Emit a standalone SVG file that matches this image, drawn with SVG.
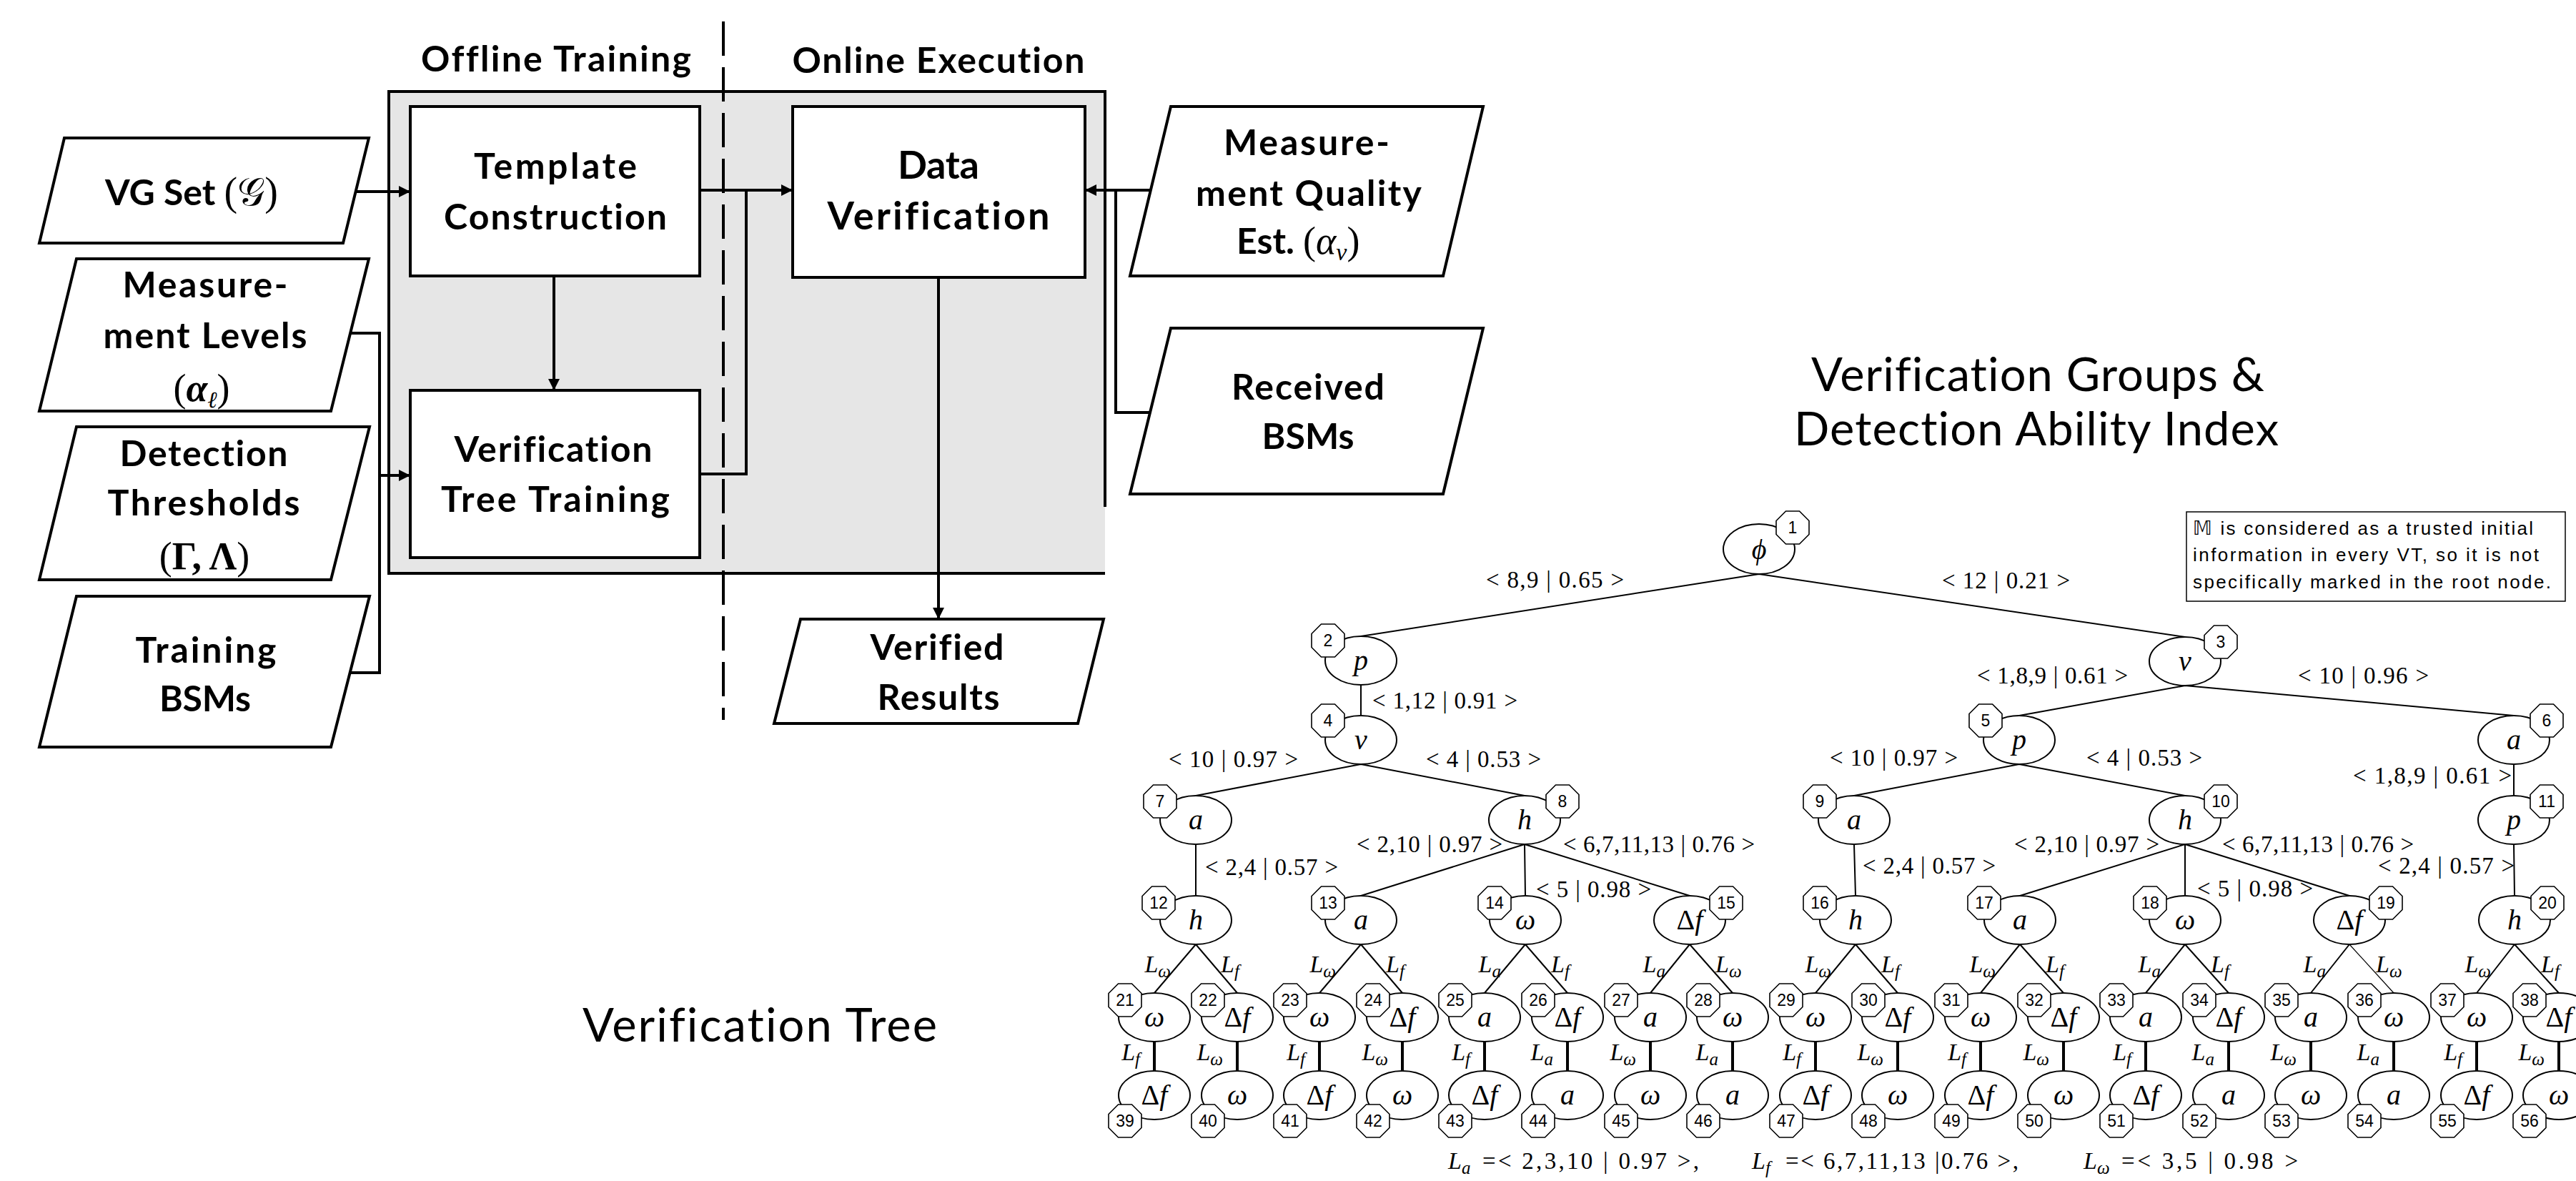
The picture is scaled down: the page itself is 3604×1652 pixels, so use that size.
<svg xmlns="http://www.w3.org/2000/svg" xmlns:xlink="http://www.w3.org/1999/xlink" width="3604" height="1652" viewBox="0 0 3604 1652">
<defs>
<style>
.fc{font-family:Lato,"Liberation Sans",sans-serif;font-weight:bold;font-size:50px;text-anchor:middle;fill:#000;font-variant-ligatures:none;font-feature-settings:"liga" 0,"dlig" 0,"clig" 0}
.fcl{font-family:Lato,"Liberation Sans",sans-serif;font-weight:bold;font-size:54px;text-anchor:middle;fill:#000;font-variant-ligatures:none;font-feature-settings:"liga" 0,"dlig" 0,"clig" 0}
.math{font-family:"Liberation Serif",serif}
.box{fill:#fff;stroke:#000;stroke-width:4}
.wire{fill:none;stroke:#000;stroke-width:4}
.title{font-family:Lato,"Liberation Sans",sans-serif;font-size:65px;text-anchor:middle;fill:#000;font-variant-ligatures:none;font-feature-settings:"liga" 0,"dlig" 0,"clig" 0}
.note{font-family:"Liberation Sans",sans-serif;font-size:26px;fill:#000}
.nd{fill:#fff;stroke:#000;stroke-width:2}
.oct{fill:#fff;stroke:#000;stroke-width:1.6}
.num{font-family:"Liberation Sans",sans-serif;font-size:23px;text-anchor:middle;fill:#000}
.sym{font-family:"Liberation Serif",serif;font-style:italic;font-size:40px;text-anchor:middle;fill:#000}
.lab{font-family:"Liberation Serif",serif;font-size:33px;fill:#000}
.L{font-family:"Liberation Serif",serif;font-style:italic;font-size:34px;fill:#000}
.s{font-size:25px}
.e1{fill:none;stroke:#000;stroke-width:2}
.e2{fill:none;stroke:#000;stroke-width:4}
</style>
<marker id="ah" viewBox="0 0 10 10" refX="10" refY="5" markerWidth="4" markerHeight="4" orient="auto">
<path d="M0,0 L10,5 L0,10 z" fill="#000"/>
</marker>
<polygon id="oct" points="23,9.5 9.5,23 -9.5,23 -23,9.5 -23,-9.5 -9.5,-23 9.5,-23 23,-9.5"/>
</defs>
<rect width="3604" height="1652" fill="#fff"/>

<!-- ===== Workflow: offline training / online execution ===== -->
<g id="stage-area">
<rect x="544" y="128" width="1002" height="674" fill="#e6e6e6"/>
<path class="wire" d="M1546,709 V128 H544 V802 H1546"/>
</g>
<text class="fc" x="778" y="100" textLength="378">Offline Training</text>
<text class="fc" x="1313" y="102" textLength="409">Online Execution</text>

<g id="template-construction">
<rect class="box" x="574" y="149" width="405" height="237"/>
<text class="fc" x="777" y="250" textLength="228">Template</text>
<text class="fc" x="777" y="321" textLength="312">Construction</text>
</g>
<g id="tree-training">
<rect class="box" x="574" y="546" width="405" height="234"/>
<text class="fc" x="774" y="646" textLength="277">Verification</text>
<text class="fc" x="777" y="716" textLength="320">Tree Training</text>
</g>
<g id="data-verification">
<rect class="box" x="1109" y="149" width="409" height="239"/>
<text class="fcl" x="1313" y="250" textLength="114">Data</text>
<text class="fcl" x="1313" y="321" textLength="311">Verification</text>
</g>

<g id="vg-set">
<polygon class="box" points="90,193 516,193 480,340 55,340"/>
<text class="fc" x="147" y="287" style="text-anchor:start">VG Set <tspan class="math" font-weight="normal" font-size="56">(</tspan><tspan font-family="'DejaVu Serif','DejaVu Sans',serif" font-weight="normal" font-size="54">𝒢</tspan><tspan class="math" font-weight="normal" font-size="56">)</tspan></text>
</g>
<g id="measurement-levels">
<polygon class="box" points="107,362 516,362 463,575 55,575"/>
<text class="fc" x="287" y="416" textLength="231">Measure-</text>
<text class="fc" x="287" y="487" textLength="285">ment Levels</text>
<text class="math" x="282" y="561" font-size="54" text-anchor="middle">(<tspan font-weight="bold" font-style="italic">α</tspan><tspan font-style="italic" font-size="32" dy="9">ℓ</tspan><tspan dy="-9">)</tspan></text>
</g>
<g id="detection-thresholds">
<polygon class="box" points="107,597 517,597 463,811 55,811"/>
<text class="fc" x="285" y="652" textLength="235">Detection</text>
<text class="fc" x="285" y="721" textLength="269">Thresholds</text>
<text class="math" x="286" y="796" font-size="54" text-anchor="middle">(<tspan font-weight="bold">Γ, Λ</tspan>)</text>
</g>
<g id="training-bsms">
<polygon class="box" points="107,834 517,834 463,1045 55,1045"/>
<text class="fc" x="288" y="927" textLength="197">Training</text>
<text class="fc" x="287" y="995" textLength="128">BSMs</text>
</g>
<g id="measurement-quality">
<polygon class="box" points="1638,149 2075,149 2019,386 1581,386"/>
<text class="fc" x="1828" y="217" textLength="232">Measure-</text>
<text class="fc" x="1831" y="288" textLength="316">ment Quality</text>
<text class="fc" x="1730" y="355" style="text-anchor:start">Est. <tspan class="math" font-weight="normal" font-size="54">(<tspan font-style="italic">α</tspan><tspan font-style="italic" font-size="34" dy="9">v</tspan><tspan dy="-9">)</tspan></tspan></text>
</g>
<g id="received-bsms">
<polygon class="box" points="1638,459 2075,459 2019,691 1581,691"/>
<text class="fc" x="1830" y="559" textLength="214">Received</text>
<text class="fc" x="1830" y="628" textLength="129">BSMs</text>
</g>
<g id="verified-results">
<polygon class="box" points="1120,866 1544,866 1508,1012 1083,1012"/>
<text class="fc" x="1311" y="923" textLength="187">Verified</text>
<text class="fc" x="1313" y="993" textLength="171">Results</text>
</g>

<g id="flow-connectors">
<path class="wire" d="M498,268 H574" marker-end="url(#ah)"/>
<path class="wire" d="M775,386 V546" marker-end="url(#ah)"/>
<path class="wire" d="M491,466 H531 V941 H491"/>
<path class="wire" d="M531,665 H574" marker-end="url(#ah)"/>
<path class="wire" d="M979,266 H1109" marker-end="url(#ah)"/>
<path class="wire" d="M979,663 H1044 V266"/>
<path class="wire" d="M1313,388 V866" marker-end="url(#ah)"/>
<path class="wire" d="M1609,266 H1518" marker-end="url(#ah)"/>
<path class="wire" d="M1609,577 H1561 V266"/>
</g>
<line id="stage-divider" x1="1012" y1="30" x2="1012" y2="1007" stroke="#000" stroke-width="4" stroke-dasharray="48 16"/>

<!-- ===== Titles ===== -->
<text class="title" x="2851" y="547" textLength="634">Verification Groups &amp;</text>
<text class="title" x="2849" y="623" textLength="678">Detection Ability Index</text>
<text class="title" x="1063" y="1457" textLength="496">Verification Tree</text>

<g id="note">
<rect x="3059" y="716" width="530" height="125" fill="#fff" stroke="#000" stroke-width="1.5"/>
<text class="note" x="3068" y="748" textLength="476"><tspan font-family="'DejaVu Sans',sans-serif">𝕄</tspan> is considered as a trusted initial</text>
<text class="note" x="3068" y="785" textLength="484">information in every VT, so it is not</text>
<text class="note" x="3068" y="823" textLength="501">specifically marked in the root node.</text>
</g>

<!-- ===== Verification tree edges ===== -->
<g id="tree-edges">
<path class="e1" d="M2461,803 L1904,890 M2461,803 L3057,891"/>
<path class="e1" d="M1904,958 V1001 M3057,959 L2825,1001 M3057,959 L3517,1001"/>
<path class="e1" d="M1904,1069 L1673,1113 M1904,1069 L2133,1113 M2825,1069 L2594,1113 M2825,1069 L3057,1113 M3517,1069 V1113"/>
<path class="e1" d="M1673,1181 V1253 M2133,1181 L1904,1253 M2133,1181 L2134,1253 M2133,1181 L2364,1253 M2594,1181 L2596,1253 M3057,1181 L2826,1253 M3057,1181 V1253 M3057,1181 L3287,1253 M3517,1181 L3518,1253"/>
<path class="e1" d="M1673,1321 L1615,1389 M1673,1321 L1731,1389 M1904,1321 L1846,1389 M1904,1321 L1962,1389 M2134,1321 L2077,1389 M2134,1321 L2193,1389 M2364,1321 L2309,1389 M2364,1321 L2424,1389 M2596,1321 L2540,1389 M2596,1321 L2655,1389 M2826,1321 L2771,1389 M2826,1321 L2887,1389 M3057,1321 L3002,1389 M3057,1321 L3118,1389 M3287,1321 L3233,1389 M3518,1321 L3465,1389 M3518,1321 L3580,1389"/>
<path fill="none" stroke="#000" stroke-width="1.2" d="M3287,1321 L3349,1389"/>
<path class="e2" d="M1615,1457 V1498 M1731,1457 V1498 M1846,1457 V1498 M1962,1457 V1498 M2077,1457 V1498 M2193,1457 V1498 M2309,1457 V1498 M2424,1457 V1498 M2540,1457 V1498 M2655,1457 V1498 M2771,1457 V1498 M2887,1457 V1498 M3002,1457 V1498 M3118,1457 V1498 M3233,1457 V1498 M3349,1457 V1498 M3465,1457 V1498 M3580,1457 V1498"/>
</g>

<!-- edge labels: < groups | index > -->
<g id="tree-edge-labels">
<text class="lab" x="2079" y="822" textLength="193">&lt; 8,9 | 0.65 &gt;</text>
<text class="lab" x="2717" y="823" textLength="179">&lt; 12 | 0.21 &gt;</text>
<text class="lab" x="1920" y="991" textLength="203">&lt; 1,12 | 0.91 &gt;</text>
<text class="lab" x="2766" y="956" textLength="211">&lt; 1,8,9 | 0.61 &gt;</text>
<text class="lab" x="3215" y="956" textLength="183">&lt; 10 | 0.96 &gt;</text>
<text class="lab" x="1635" y="1073" textLength="181">&lt; 10 | 0.97 &gt;</text>
<text class="lab" x="1995" y="1073" textLength="161">&lt; 4 | 0.53 &gt;</text>
<text class="lab" x="2560" y="1071" textLength="179">&lt; 10 | 0.97 &gt;</text>
<text class="lab" x="2919" y="1071" textLength="162">&lt; 4 | 0.53 &gt;</text>
<text class="lab" x="3292" y="1096" textLength="222">&lt; 1,8,9 | 0.61 &gt;</text>
<text class="lab" x="1686" y="1224" textLength="186">&lt; 2,4 | 0.57 &gt;</text>
<text class="lab" x="1898" y="1192" textLength="204">&lt; 2,10 | 0.97 &gt;</text>
<text class="lab" x="2187" y="1192" textLength="268">&lt; 6,7,11,13 | 0.76 &gt;</text>
<text class="lab" x="2149" y="1255" textLength="161">&lt; 5 | 0.98 &gt;</text>
<text class="lab" x="2606" y="1222" textLength="186">&lt; 2,4 | 0.57 &gt;</text>
<text class="lab" x="2818" y="1192" textLength="203">&lt; 2,10 | 0.97 &gt;</text>
<text class="lab" x="3109" y="1192" textLength="268">&lt; 6,7,11,13 | 0.76 &gt;</text>
<text class="lab" x="3074" y="1254" textLength="162">&lt; 5 | 0.98 &gt;</text>
<text class="lab" x="3327" y="1222" textLength="191">&lt; 2,4 | 0.57 &gt;</text>

<text class="L" x="1638" y="1360" text-anchor="end">L<tspan class="s" dy="7">ω</tspan></text>
<text class="L" x="1708" y="1360">L<tspan class="s" dy="7">f</tspan></text>
<text class="L" x="1869" y="1360" text-anchor="end">L<tspan class="s" dy="7">ω</tspan></text>
<text class="L" x="1939" y="1360">L<tspan class="s" dy="7">f</tspan></text>
<text class="L" x="2100" y="1360" text-anchor="end">L<tspan class="s" dy="7">a</tspan></text>
<text class="L" x="2170" y="1360">L<tspan class="s" dy="7">f</tspan></text>
<text class="L" x="2330" y="1360" text-anchor="end">L<tspan class="s" dy="7">a</tspan></text>
<text class="L" x="2400" y="1360">L<tspan class="s" dy="7">ω</tspan></text>
<text class="L" x="2562" y="1360" text-anchor="end">L<tspan class="s" dy="7">ω</tspan></text>
<text class="L" x="2632" y="1360">L<tspan class="s" dy="7">f</tspan></text>
<text class="L" x="2792" y="1360" text-anchor="end">L<tspan class="s" dy="7">ω</tspan></text>
<text class="L" x="2862" y="1360">L<tspan class="s" dy="7">f</tspan></text>
<text class="L" x="3023" y="1360" text-anchor="end">L<tspan class="s" dy="7">a</tspan></text>
<text class="L" x="3093" y="1360">L<tspan class="s" dy="7">f</tspan></text>
<text class="L" x="3254" y="1360" text-anchor="end">L<tspan class="s" dy="7">a</tspan></text>
<text class="L" x="3324" y="1360">L<tspan class="s" dy="7">ω</tspan></text>
<text class="L" x="3485" y="1360" text-anchor="end">L<tspan class="s" dy="7">ω</tspan></text>
<text class="L" x="3555" y="1360">L<tspan class="s" dy="7">f</tspan></text>

<text class="L" x="1595" y="1483" text-anchor="end">L<tspan class="s" dy="7">f</tspan></text>
<text class="L" x="1711" y="1483" text-anchor="end">L<tspan class="s" dy="7">ω</tspan></text>
<text class="L" x="1826" y="1483" text-anchor="end">L<tspan class="s" dy="7">f</tspan></text>
<text class="L" x="1942" y="1483" text-anchor="end">L<tspan class="s" dy="7">ω</tspan></text>
<text class="L" x="2057" y="1483" text-anchor="end">L<tspan class="s" dy="7">f</tspan></text>
<text class="L" x="2173" y="1483" text-anchor="end">L<tspan class="s" dy="7">a</tspan></text>
<text class="L" x="2289" y="1483" text-anchor="end">L<tspan class="s" dy="7">ω</tspan></text>
<text class="L" x="2404" y="1483" text-anchor="end">L<tspan class="s" dy="7">a</tspan></text>
<text class="L" x="2520" y="1483" text-anchor="end">L<tspan class="s" dy="7">f</tspan></text>
<text class="L" x="2635" y="1483" text-anchor="end">L<tspan class="s" dy="7">ω</tspan></text>
<text class="L" x="2751" y="1483" text-anchor="end">L<tspan class="s" dy="7">f</tspan></text>
<text class="L" x="2867" y="1483" text-anchor="end">L<tspan class="s" dy="7">ω</tspan></text>
<text class="L" x="2982" y="1483" text-anchor="end">L<tspan class="s" dy="7">f</tspan></text>
<text class="L" x="3098" y="1483" text-anchor="end">L<tspan class="s" dy="7">a</tspan></text>
<text class="L" x="3213" y="1483" text-anchor="end">L<tspan class="s" dy="7">ω</tspan></text>
<text class="L" x="3329" y="1483" text-anchor="end">L<tspan class="s" dy="7">a</tspan></text>
<text class="L" x="3445" y="1483" text-anchor="end">L<tspan class="s" dy="7">f</tspan></text>
<text class="L" x="3560" y="1483" text-anchor="end">L<tspan class="s" dy="7">ω</tspan></text>
</g>

<!-- ===== Verification tree nodes ===== -->
<g id="vt-node-1"><ellipse class="nd" cx="2461" cy="768" rx="50" ry="35"/><text class="sym" x="2461" y="782">ϕ</text><use xlink:href="#oct" x="2508" y="738" class="oct"/><text class="num" x="2508" y="746">1</text></g>
<g id="vt-node-2"><ellipse class="nd" cx="1904" cy="924" rx="50" ry="34"/><text class="sym" x="1904" y="937">p</text><use xlink:href="#oct" x="1858" y="896" class="oct"/><text class="num" x="1858" y="904">2</text></g>
<g id="vt-node-3"><ellipse class="nd" cx="3057" cy="925" rx="50" ry="34"/><text class="sym" x="3057" y="938">v</text><use xlink:href="#oct" x="3107" y="898" class="oct"/><text class="num" x="3107" y="906">3</text></g>
<g id="vt-node-4"><ellipse class="nd" cx="1904" cy="1035" rx="50" ry="34"/><text class="sym" x="1904" y="1048">v</text><use xlink:href="#oct" x="1858" y="1008" class="oct"/><text class="num" x="1858" y="1016">4</text></g>
<g id="vt-node-5"><ellipse class="nd" cx="2825" cy="1035" rx="50" ry="34"/><text class="sym" x="2825" y="1048">p</text><use xlink:href="#oct" x="2778" y="1008" class="oct"/><text class="num" x="2778" y="1016">5</text></g>
<g id="vt-node-6"><ellipse class="nd" cx="3517" cy="1035" rx="50" ry="34"/><text class="sym" x="3517" y="1048">a</text><use xlink:href="#oct" x="3563" y="1008" class="oct"/><text class="num" x="3563" y="1016">6</text></g>
<g id="vt-node-7"><ellipse class="nd" cx="1673" cy="1147" rx="50" ry="34"/><text class="sym" x="1673" y="1160">a</text><use xlink:href="#oct" x="1623" y="1121" class="oct"/><text class="num" x="1623" y="1129">7</text></g>
<g id="vt-node-8"><ellipse class="nd" cx="2133" cy="1147" rx="50" ry="34"/><text class="sym" x="2133" y="1160">h</text><use xlink:href="#oct" x="2186" y="1121" class="oct"/><text class="num" x="2186" y="1129">8</text></g>
<g id="vt-node-9"><ellipse class="nd" cx="2594" cy="1147" rx="50" ry="34"/><text class="sym" x="2594" y="1160">a</text><use xlink:href="#oct" x="2546" y="1121" class="oct"/><text class="num" x="2546" y="1129">9</text></g>
<g id="vt-node-10"><ellipse class="nd" cx="3057" cy="1147" rx="50" ry="34"/><text class="sym" x="3057" y="1160">h</text><use xlink:href="#oct" x="3107" y="1121" class="oct"/><text class="num" x="3107" y="1129">10</text></g>
<g id="vt-node-11"><ellipse class="nd" cx="3517" cy="1147" rx="50" ry="34"/><text class="sym" x="3517" y="1160">p</text><use xlink:href="#oct" x="3563" y="1121" class="oct"/><text class="num" x="3563" y="1129">11</text></g>
<g id="vt-node-12"><ellipse class="nd" cx="1673" cy="1287" rx="50" ry="34"/><text class="sym" x="1673" y="1300">h</text><use xlink:href="#oct" x="1621" y="1263" class="oct"/><text class="num" x="1621" y="1271">12</text></g>
<g id="vt-node-13"><ellipse class="nd" cx="1904" cy="1287" rx="50" ry="34"/><text class="sym" x="1904" y="1300">a</text><use xlink:href="#oct" x="1858" y="1263" class="oct"/><text class="num" x="1858" y="1271">13</text></g>
<g id="vt-node-14"><ellipse class="nd" cx="2134" cy="1287" rx="50" ry="34"/><text class="sym" x="2134" y="1300">ω</text><use xlink:href="#oct" x="2091" y="1263" class="oct"/><text class="num" x="2091" y="1271">14</text></g>
<g id="vt-node-15"><ellipse class="nd" cx="2364" cy="1287" rx="50" ry="34"/><text class="sym" x="2364" y="1300"><tspan font-style="normal">Δ</tspan>f</text><use xlink:href="#oct" x="2415" y="1263" class="oct"/><text class="num" x="2415" y="1271">15</text></g>
<g id="vt-node-16"><ellipse class="nd" cx="2596" cy="1287" rx="50" ry="34"/><text class="sym" x="2596" y="1300">h</text><use xlink:href="#oct" x="2546" y="1263" class="oct"/><text class="num" x="2546" y="1271">16</text></g>
<g id="vt-node-17"><ellipse class="nd" cx="2826" cy="1287" rx="50" ry="34"/><text class="sym" x="2826" y="1300">a</text><use xlink:href="#oct" x="2776" y="1263" class="oct"/><text class="num" x="2776" y="1271">17</text></g>
<g id="vt-node-18"><ellipse class="nd" cx="3057" cy="1287" rx="50" ry="34"/><text class="sym" x="3057" y="1300">ω</text><use xlink:href="#oct" x="3008" y="1263" class="oct"/><text class="num" x="3008" y="1271">18</text></g>
<g id="vt-node-19"><ellipse class="nd" cx="3287" cy="1287" rx="50" ry="34"/><text class="sym" x="3287" y="1300"><tspan font-style="normal">Δ</tspan>f</text><use xlink:href="#oct" x="3338" y="1263" class="oct"/><text class="num" x="3338" y="1271">19</text></g>
<g id="vt-node-20"><ellipse class="nd" cx="3518" cy="1287" rx="50" ry="34"/><text class="sym" x="3518" y="1300">h</text><use xlink:href="#oct" x="3564" y="1263" class="oct"/><text class="num" x="3564" y="1271">20</text></g>

<g id="vt-node-21"><ellipse class="nd" cx="1615" cy="1423" rx="50" ry="34"/><text class="sym" x="1615" y="1436">ω</text><use xlink:href="#oct" x="1574" y="1399" class="oct"/><text class="num" x="1574" y="1407">21</text></g>
<g id="vt-node-22"><ellipse class="nd" cx="1731" cy="1423" rx="50" ry="34"/><text class="sym" x="1731" y="1436"><tspan font-style="normal">Δ</tspan>f</text><use xlink:href="#oct" x="1690" y="1399" class="oct"/><text class="num" x="1690" y="1407">22</text></g>
<g id="vt-node-23"><ellipse class="nd" cx="1846" cy="1423" rx="50" ry="34"/><text class="sym" x="1846" y="1436">ω</text><use xlink:href="#oct" x="1805" y="1399" class="oct"/><text class="num" x="1805" y="1407">23</text></g>
<g id="vt-node-24"><ellipse class="nd" cx="1962" cy="1423" rx="50" ry="34"/><text class="sym" x="1962" y="1436"><tspan font-style="normal">Δ</tspan>f</text><use xlink:href="#oct" x="1921" y="1399" class="oct"/><text class="num" x="1921" y="1407">24</text></g>
<g id="vt-node-25"><ellipse class="nd" cx="2077" cy="1423" rx="50" ry="34"/><text class="sym" x="2077" y="1436">a</text><use xlink:href="#oct" x="2036" y="1399" class="oct"/><text class="num" x="2036" y="1407">25</text></g>
<g id="vt-node-26"><ellipse class="nd" cx="2193" cy="1423" rx="50" ry="34"/><text class="sym" x="2193" y="1436"><tspan font-style="normal">Δ</tspan>f</text><use xlink:href="#oct" x="2152" y="1399" class="oct"/><text class="num" x="2152" y="1407">26</text></g>
<g id="vt-node-27"><ellipse class="nd" cx="2309" cy="1423" rx="50" ry="34"/><text class="sym" x="2309" y="1436">a</text><use xlink:href="#oct" x="2268" y="1399" class="oct"/><text class="num" x="2268" y="1407">27</text></g>
<g id="vt-node-28"><ellipse class="nd" cx="2424" cy="1423" rx="50" ry="34"/><text class="sym" x="2424" y="1436">ω</text><use xlink:href="#oct" x="2383" y="1399" class="oct"/><text class="num" x="2383" y="1407">28</text></g>
<g id="vt-node-29"><ellipse class="nd" cx="2540" cy="1423" rx="50" ry="34"/><text class="sym" x="2540" y="1436">ω</text><use xlink:href="#oct" x="2499" y="1399" class="oct"/><text class="num" x="2499" y="1407">29</text></g>
<g id="vt-node-30"><ellipse class="nd" cx="2655" cy="1423" rx="50" ry="34"/><text class="sym" x="2655" y="1436"><tspan font-style="normal">Δ</tspan>f</text><use xlink:href="#oct" x="2614" y="1399" class="oct"/><text class="num" x="2614" y="1407">30</text></g>
<g id="vt-node-31"><ellipse class="nd" cx="2771" cy="1423" rx="50" ry="34"/><text class="sym" x="2771" y="1436">ω</text><use xlink:href="#oct" x="2730" y="1399" class="oct"/><text class="num" x="2730" y="1407">31</text></g>
<g id="vt-node-32"><ellipse class="nd" cx="2887" cy="1423" rx="50" ry="34"/><text class="sym" x="2887" y="1436"><tspan font-style="normal">Δ</tspan>f</text><use xlink:href="#oct" x="2846" y="1399" class="oct"/><text class="num" x="2846" y="1407">32</text></g>
<g id="vt-node-33"><ellipse class="nd" cx="3002" cy="1423" rx="50" ry="34"/><text class="sym" x="3002" y="1436">a</text><use xlink:href="#oct" x="2961" y="1399" class="oct"/><text class="num" x="2961" y="1407">33</text></g>
<g id="vt-node-34"><ellipse class="nd" cx="3118" cy="1423" rx="50" ry="34"/><text class="sym" x="3118" y="1436"><tspan font-style="normal">Δ</tspan>f</text><use xlink:href="#oct" x="3077" y="1399" class="oct"/><text class="num" x="3077" y="1407">34</text></g>
<g id="vt-node-35"><ellipse class="nd" cx="3233" cy="1423" rx="50" ry="34"/><text class="sym" x="3233" y="1436">a</text><use xlink:href="#oct" x="3192" y="1399" class="oct"/><text class="num" x="3192" y="1407">35</text></g>
<g id="vt-node-36"><ellipse class="nd" cx="3349" cy="1423" rx="50" ry="34"/><text class="sym" x="3349" y="1436">ω</text><use xlink:href="#oct" x="3308" y="1399" class="oct"/><text class="num" x="3308" y="1407">36</text></g>
<g id="vt-node-37"><ellipse class="nd" cx="3465" cy="1423" rx="50" ry="34"/><text class="sym" x="3465" y="1436">ω</text><use xlink:href="#oct" x="3424" y="1399" class="oct"/><text class="num" x="3424" y="1407">37</text></g>
<g id="vt-node-38"><ellipse class="nd" cx="3580" cy="1423" rx="50" ry="34"/><text class="sym" x="3580" y="1436"><tspan font-style="normal">Δ</tspan>f</text><use xlink:href="#oct" x="3539" y="1399" class="oct"/><text class="num" x="3539" y="1407">38</text></g>

<g id="vt-node-39"><ellipse class="nd" cx="1615" cy="1532" rx="50" ry="34"/><text class="sym" x="1615" y="1545"><tspan font-style="normal">Δ</tspan>f</text><use xlink:href="#oct" x="1574" y="1568" class="oct"/><text class="num" x="1574" y="1576">39</text></g>
<g id="vt-node-40"><ellipse class="nd" cx="1731" cy="1532" rx="50" ry="34"/><text class="sym" x="1731" y="1545">ω</text><use xlink:href="#oct" x="1690" y="1568" class="oct"/><text class="num" x="1690" y="1576">40</text></g>
<g id="vt-node-41"><ellipse class="nd" cx="1846" cy="1532" rx="50" ry="34"/><text class="sym" x="1846" y="1545"><tspan font-style="normal">Δ</tspan>f</text><use xlink:href="#oct" x="1805" y="1568" class="oct"/><text class="num" x="1805" y="1576">41</text></g>
<g id="vt-node-42"><ellipse class="nd" cx="1962" cy="1532" rx="50" ry="34"/><text class="sym" x="1962" y="1545">ω</text><use xlink:href="#oct" x="1921" y="1568" class="oct"/><text class="num" x="1921" y="1576">42</text></g>
<g id="vt-node-43"><ellipse class="nd" cx="2077" cy="1532" rx="50" ry="34"/><text class="sym" x="2077" y="1545"><tspan font-style="normal">Δ</tspan>f</text><use xlink:href="#oct" x="2036" y="1568" class="oct"/><text class="num" x="2036" y="1576">43</text></g>
<g id="vt-node-44"><ellipse class="nd" cx="2193" cy="1532" rx="50" ry="34"/><text class="sym" x="2193" y="1545">a</text><use xlink:href="#oct" x="2152" y="1568" class="oct"/><text class="num" x="2152" y="1576">44</text></g>
<g id="vt-node-45"><ellipse class="nd" cx="2309" cy="1532" rx="50" ry="34"/><text class="sym" x="2309" y="1545">ω</text><use xlink:href="#oct" x="2268" y="1568" class="oct"/><text class="num" x="2268" y="1576">45</text></g>
<g id="vt-node-46"><ellipse class="nd" cx="2424" cy="1532" rx="50" ry="34"/><text class="sym" x="2424" y="1545">a</text><use xlink:href="#oct" x="2383" y="1568" class="oct"/><text class="num" x="2383" y="1576">46</text></g>
<g id="vt-node-47"><ellipse class="nd" cx="2540" cy="1532" rx="50" ry="34"/><text class="sym" x="2540" y="1545"><tspan font-style="normal">Δ</tspan>f</text><use xlink:href="#oct" x="2499" y="1568" class="oct"/><text class="num" x="2499" y="1576">47</text></g>
<g id="vt-node-48"><ellipse class="nd" cx="2655" cy="1532" rx="50" ry="34"/><text class="sym" x="2655" y="1545">ω</text><use xlink:href="#oct" x="2614" y="1568" class="oct"/><text class="num" x="2614" y="1576">48</text></g>
<g id="vt-node-49"><ellipse class="nd" cx="2771" cy="1532" rx="50" ry="34"/><text class="sym" x="2771" y="1545"><tspan font-style="normal">Δ</tspan>f</text><use xlink:href="#oct" x="2730" y="1568" class="oct"/><text class="num" x="2730" y="1576">49</text></g>
<g id="vt-node-50"><ellipse class="nd" cx="2887" cy="1532" rx="50" ry="34"/><text class="sym" x="2887" y="1545">ω</text><use xlink:href="#oct" x="2846" y="1568" class="oct"/><text class="num" x="2846" y="1576">50</text></g>
<g id="vt-node-51"><ellipse class="nd" cx="3002" cy="1532" rx="50" ry="34"/><text class="sym" x="3002" y="1545"><tspan font-style="normal">Δ</tspan>f</text><use xlink:href="#oct" x="2961" y="1568" class="oct"/><text class="num" x="2961" y="1576">51</text></g>
<g id="vt-node-52"><ellipse class="nd" cx="3118" cy="1532" rx="50" ry="34"/><text class="sym" x="3118" y="1545">a</text><use xlink:href="#oct" x="3077" y="1568" class="oct"/><text class="num" x="3077" y="1576">52</text></g>
<g id="vt-node-53"><ellipse class="nd" cx="3233" cy="1532" rx="50" ry="34"/><text class="sym" x="3233" y="1545">ω</text><use xlink:href="#oct" x="3192" y="1568" class="oct"/><text class="num" x="3192" y="1576">53</text></g>
<g id="vt-node-54"><ellipse class="nd" cx="3349" cy="1532" rx="50" ry="34"/><text class="sym" x="3349" y="1545">a</text><use xlink:href="#oct" x="3308" y="1568" class="oct"/><text class="num" x="3308" y="1576">54</text></g>
<g id="vt-node-55"><ellipse class="nd" cx="3465" cy="1532" rx="50" ry="34"/><text class="sym" x="3465" y="1545"><tspan font-style="normal">Δ</tspan>f</text><use xlink:href="#oct" x="3424" y="1568" class="oct"/><text class="num" x="3424" y="1576">55</text></g>
<g id="vt-node-56"><ellipse class="nd" cx="3580" cy="1532" rx="50" ry="34"/><text class="sym" x="3580" y="1545">ω</text><use xlink:href="#oct" x="3539" y="1568" class="oct"/><text class="num" x="3539" y="1576">56</text></g>

<!-- label definitions -->
<g id="legend">
<text class="L" x="2026" y="1635">L<tspan class="s" dy="7">a</tspan></text>
<text class="lab" x="2074" y="1635" textLength="303">=&lt; 2,3,10 | 0.97 &gt;,</text>
<text class="L" x="2451" y="1635">L<tspan class="s" dy="7">f</tspan></text>
<text class="lab" x="2498" y="1635" textLength="326">=&lt; 6,7,11,13 |0.76 &gt;,</text>
<text class="L" x="2915" y="1635">L<tspan class="s" dy="7">ω</tspan></text>
<text class="lab" x="2968" y="1635" textLength="247">=&lt; 3,5 | 0.98 &gt;</text>
</g>
</svg>
